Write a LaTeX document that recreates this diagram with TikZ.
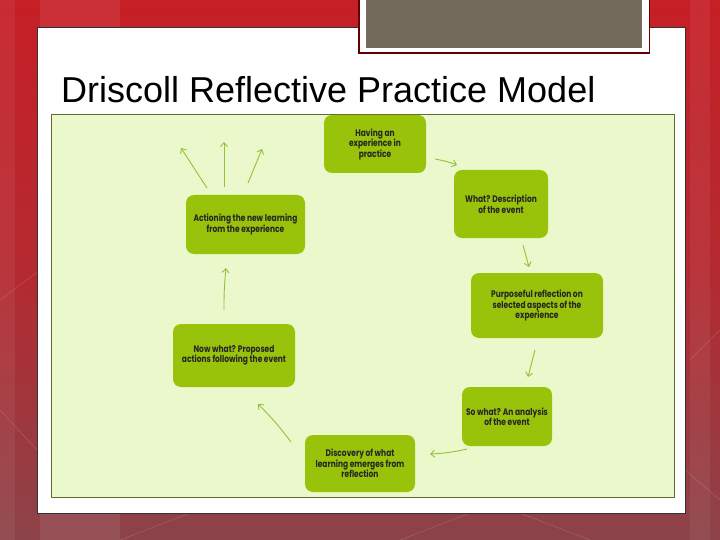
\documentclass[tikz,border=0pt]{standalone}
\usepackage{fontspec}
\setmainfont{Liberation Sans}
\newfontfamily\boxfont{Poppins}[FakeStretch=0.79]
\usetikzlibrary{arrows.meta}
\definecolor{redtop}{HTML}{C61F26}
\definecolor{redbot}{HTML}{8C4349}
\definecolor{graybox}{HTML}{756B5C}
\definecolor{panelgreen}{HTML}{EBF8CC}
\definecolor{paneledge}{HTML}{5F6B2A}
\definecolor{boxgreen}{HTML}{99C20A}
\definecolor{arrowgreen}{HTML}{93C13A}
\tikzset{
  stepbox/.style={draw=none, fill=boxgreen, rounded corners=8pt, align=center,
    font=\boxfont\bfseries\fontsize{9.5}{10.5}\selectfont, text=black!85, inner sep=2pt},
  flow/.style={draw=arrowgreen, line width=0.9pt, -{Straight Barb[length=4pt,width=7pt]}},
}
\begin{document}
\begin{tikzpicture}[x=1pt,y=-1pt]
\useasboundingbox (0,0) rectangle (720,540);
% slide background
\shade[top color=redtop, bottom color=redbot, middle color=redtop!70!redbot] (0,0) rectangle (720,540);
\fill[white, opacity=0.08] (40,0) rectangle (120,540);
\fill[white, opacity=0.06] (690,0) rectangle (710,540);
\fill[white, opacity=0.06] (0,0) rectangle (15,540);
\draw[white, opacity=0.15, line width=0.6pt] (0,300) -- (40,270) (0,410) -- (37,450) (690,360) -- (720,330)
  (120,540) -- (190,513) (400,540) -- (470,513) (520,513) -- (590,540) (685,470) -- (720,500);
% white slide panel
\draw[fill=white, draw=black!80, line width=0.8pt] (37,27) rectangle (685,513);
% top gray box
\fill[red!40!black] (358,0) rectangle (650,54);
\fill[white] (359.5,0) rectangle (648.5,52.5);
\fill[graybox] (366,0) rectangle (642,48);
% title
\node[anchor=base west, inner sep=0pt, font=\fontsize{36}{40}\selectfont] (title) at (61,103) {Driscoll Reflective Practice Model};
% green panel
\draw[fill=panelgreen, draw=paneledge, line width=0.8pt] (51,114) rectangle (674,497);
% boxes
\node[stepbox, minimum width=102pt, minimum height=58pt] (n1) at (375,144) {Having an\\experience in\\practice};
\node[stepbox, minimum width=94pt, minimum height=68pt] (n2) at (501,204) {What? Description\\of the event};
\node[stepbox, minimum width=132pt, minimum height=65pt] (n3) at (537,305.5) {Purposeful reflection on\\selected aspects of the\\experience};
\node[stepbox, minimum width=90pt, minimum height=59pt] (n4) at (507,416.5) {So what? An analysis\\of the event};
\node[stepbox, minimum width=110pt, minimum height=57pt] (n5) at (360,463.5) {Discovery of what\\learning emerges from\\reflection};
\node[stepbox, minimum width=122pt, minimum height=63pt] (n6) at (234,355.5) {Now what? Proposed\\actions following the event};
\node[stepbox, minimum width=119pt, minimum height=59pt] (n7) at (245.5,224.5) {Actioning the new learning\\from the experience};
% arrow end points
\coordinate (a1s) at (435,159); \coordinate (a1e) at (457,165);
\coordinate (a2s) at (523,245); \coordinate (a2e) at (529,267);
\coordinate (a3s) at (535,350); \coordinate (a3e) at (528,377);
\coordinate (a4s) at (467,449); \coordinate (a4e) at (430,454);
\coordinate (a5s) at (291,442); \coordinate (a5e) at (258,404);
\coordinate (a6s) at (224,310); \coordinate (a6e) at (226,268);
\coordinate (o1s) at (207,188); \coordinate (o1e) at (181,148);
\coordinate (o2s) at (224,187); \coordinate (o2e) at (224,142);
\coordinate (o3s) at (248,183); \coordinate (o3e) at (262,149);
\draw[flow] (a1s) to[bend left=5] (a1e);
\draw[flow] (a2s) -- (a2e);
\draw[flow] (a3s) -- (a3e);
\draw[flow] (a4s) to[bend left=5] (a4e);
\draw[flow] (a5s) to[bend right=4] (a5e);
\draw[flow] (a6s) to[bend left=3] (a6e);
\draw[flow] (o1s) -- (o1e);
\draw[flow] (o2s) -- (o2e);
\draw[flow] (o3s) -- (o3e);
\end{tikzpicture}
\end{document}
